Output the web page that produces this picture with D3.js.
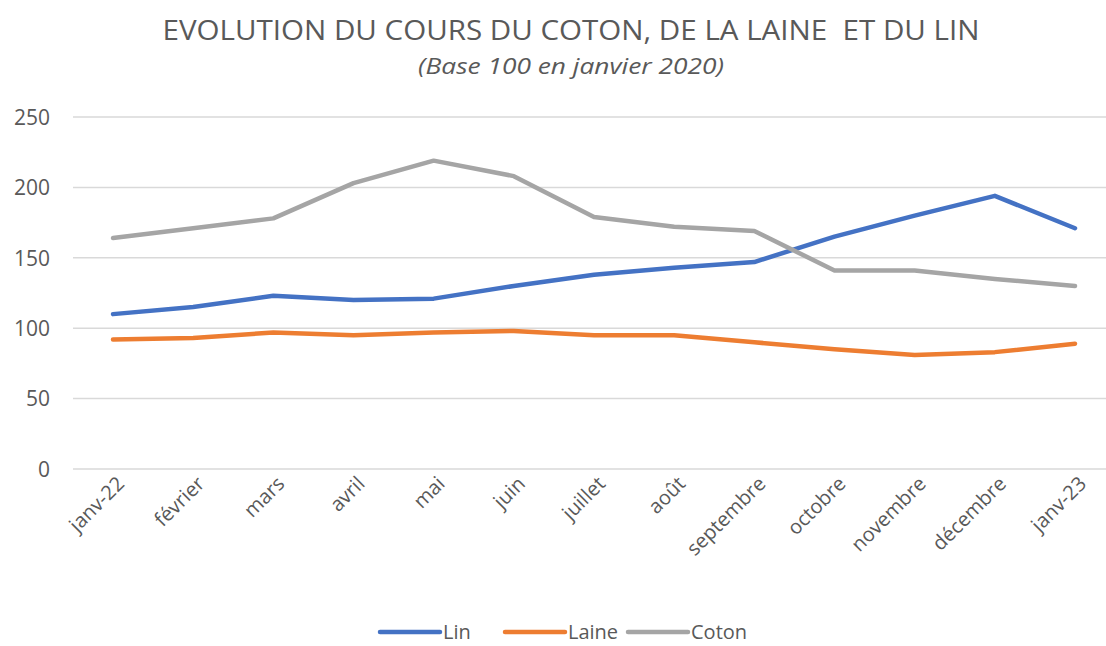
<!DOCTYPE html>
<html>
<head>
<meta charset="utf-8">
<script src="https://cdn.jsdelivr.net/npm/d3@7"></script>
<style>
  body { margin: 0; background: #fff; }
  text { font-family: "Open Sans", "Noto Sans", sans-serif; fill: #595959; }
</style>
</head>
<body>
<div id="chart"></div>
<script>
var months = ["janv-22", "février", "mars", "avril", "mai", "juin", "juillet", "août",
  "septembre", "octobre", "novembre", "décembre", "janv-23"];
var lin = [110, 115, 123, 120, 121, 130, 138, 143, 147, 165, 180, 194, 171];
var laine = [92, 93, 97, 95, 97, 98, 95, 95, 90, 85, 81, 83, 89];
var coton = [164, 171, 178, 203, 219, 208, 179, 172, 169, 141, 141, 135, 130];
var yTicks = [0, 50, 100, 150, 200, 250];

var series = [
  { name: "Lin", values: lin, color: "#4472C4" },
  { name: "Laine", values: laine, color: "#ED7D31" },
  { name: "Coton", values: coton, color: "#A5A5A5" }
];

var width = 1106, height = 646;
var svg = d3.select("#chart").append("svg")
  .attr("width", width)
  .attr("height", height);

// catégories centrées dans chaque bande
var x = d3.scalePoint()
  .domain(months)
  .range([113, 1075]);

var y = d3.scaleLinear()
  .domain([0, 250])
  .range([469, 117]);

// titre
svg.append("text")
  .attr("x", 571).attr("y", 40)
  .attr("text-anchor", "middle")
  .attr("font-size", 28)
  .attr("textLength", 817)
  .attr("lengthAdjust", "spacingAndGlyphs")
  .style("white-space", "pre")
  .text("EVOLUTION DU COURS DU COTON, DE LA LAINE  ET DU LIN");

svg.append("text")
  .attr("x", 571).attr("y", 74)
  .attr("text-anchor", "middle")
  .attr("font-size", 21)
  .attr("font-style", "italic")
  .attr("textLength", 306)
  .attr("lengthAdjust", "spacingAndGlyphs")
  .text("(Base 100 en janvier 2020)");

// grille horizontale
svg.selectAll(".grid")
  .data(yTicks)
  .enter().append("line")
  .attr("class", "grid")
  .attr("x1", 73).attr("x2", width)
  .attr("y1", function(d) { return y(d); })
  .attr("y2", function(d) { return y(d); })
  .attr("stroke", "#D9D9D9")
  .attr("stroke-width", 1.5);

// axe y
var yAxis = svg.append("g")
  .attr("transform", "translate(50,0)")
  .call(d3.axisLeft(y).tickValues(yTicks).tickSize(0).tickPadding(0));
yAxis.select(".domain").remove();
yAxis.selectAll("text")
  .attr("font-size", 21)
  .attr("dy", "0.35em")
  .style("fill", "#595959")
  .style("font-family", "'Open Sans', sans-serif");

// axe x, étiquettes inclinées
var xAxis = svg.append("g")
  .attr("transform", "translate(0,469)")
  .call(d3.axisBottom(x).tickSize(0).tickPadding(0));
xAxis.select(".domain").remove();
xAxis.selectAll(".tick text")
  .attr("font-size", 20)
  .attr("text-anchor", "end")
  .attr("dy", 0)
  .attr("y", 0)
  .attr("transform", "translate(12,16) rotate(-45)")
  .style("fill", "#595959")
  .style("font-family", "'Open Sans', sans-serif");

// courbes
var line = d3.line()
  .x(function(d, i) { return x(months[i]); })
  .y(function(d) { return y(d); });

svg.selectAll(".serie")
  .data(series)
  .enter().append("path")
  .attr("class", "serie")
  .attr("fill", "none")
  .attr("stroke", function(d) { return d.color; })
  .attr("stroke-width", 4.5)
  .attr("stroke-linecap", "round")
  .attr("stroke-linejoin", "round")
  .attr("d", function(d) { return line(d.values); });

// légende
var legendX = [380, 505, 628];
var legend = svg.selectAll(".legend")
  .data(series)
  .enter().append("g")
  .attr("class", "legend")
  .attr("transform", function(d, i) { return "translate(" + legendX[i] + ",632)"; });

legend.append("line")
  .attr("x1", 0).attr("x2", 60)
  .attr("stroke", function(d) { return d.color; })
  .attr("stroke-width", 4.5)
  .attr("stroke-linecap", "round");

legend.append("text")
  .attr("x", 63)
  .attr("dy", "0.35em")
  .attr("font-size", 20)
  .text(function(d) { return d.name; });
</script>
</body>
</html>
